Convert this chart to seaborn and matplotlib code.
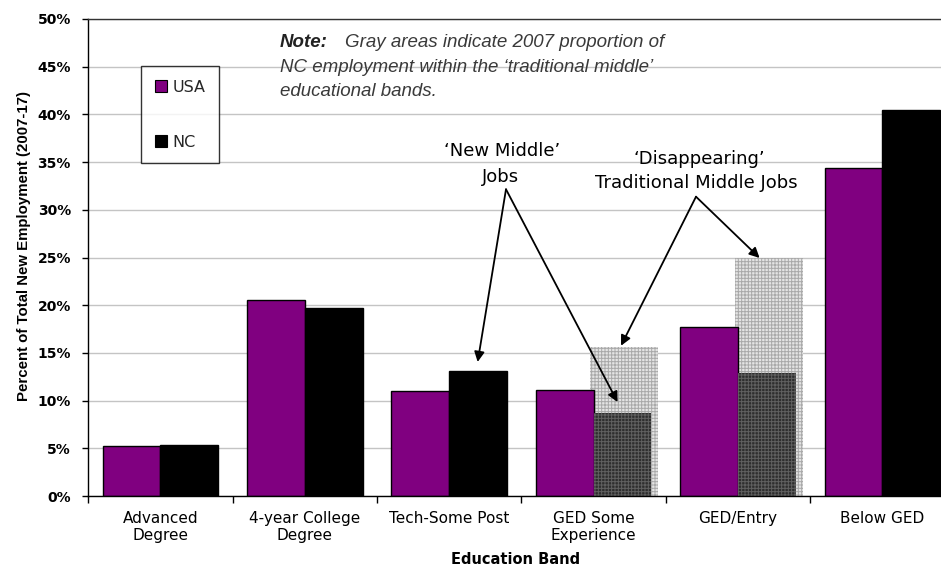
import numpy as np
import pandas as pd
import matplotlib
matplotlib.use("Agg")
import matplotlib.pyplot as plt
from matplotlib.ticker import FixedLocator, FuncFormatter
import seaborn as sns

# ---------------- data ----------------
bands = ["Advanced\nDegree", "4-year College\nDegree", "Tech-Some Post",
         "GED Some\nExperience", "GED/Entry", "Below GED"]
usa = [5.2, 20.55, 11.05, 11.15, 17.7, 34.35]
nc = [5.35, 19.7, 13.1, 8.65, 12.9, 40.45]
regions = ["USA", "NC"]

# 2007 NC share within the 'traditional middle' bands (gray areas)
middle_bands = ["GED Some\nExperience", "GED/Entry"]
nc_2007_middle = [15.6, 24.9]

y_ticks = [0, 5, 10, 15, 20, 25, 30, 35, 40, 45, 50]

note_lines = ["Gray areas indicate 2007 proportion of",
              "NC employment within the \u2018traditional middle\u2019",
              "educational bands."]

# ---------------- build frame ----------------
df = pd.DataFrame({
    "band": bands * 2,
    "region": [regions[0]] * len(bands) + [regions[1]] * len(bands),
    "value": usa + nc,
})

sns.set_theme(style="white")
plt.rcParams["font.family"] = ["DejaVu Sans"]
plt.rcParams["hatch.linewidth"] = 0.7

W, H = 941, 569
fig = plt.figure(figsize=(W / 100, H / 100), dpi=100)
fig.patch.set_facecolor("white")
# plot area (right edge runs slightly past the figure, as in the reference)
L, R, T, B = 88.3, 954.5, 19.0, 496.0
ax = fig.add_axes([L / W, 1 - B / H, (R - L) / W, (B - T) / H])
ax.set_facecolor("white")

sns.barplot(data=df, x="band", y="value", hue="region", order=bands,
            hue_order=regions, palette={"USA": "#800080", "NC": "#000000"},
            saturation=1, edgecolor="black", linewidth=1, errorbar=None,
            width=0.8, ax=ax, zorder=2)

# gray 2007 areas behind the NC bars
gx = [bands.index(b) + 0.213 for b in middle_bands]
ax.bar(gx, nc_2007_middle, width=0.47, facecolor="#e4e4e4",
       edgecolor="#a9a9a9", linewidth=0, hatch="+++++", zorder=1.5)

# NC bars of the traditional middle bands: dark hatched
nc_container = ax.containers[1]
for b in middle_bands:
    p = nc_container.patches[bands.index(b)]
    p.set_facecolor("#2e2e2e")
    p.set_edgecolor("#606060")
    p.set_linewidth(0)
    p.set_hatch("+++++")

# ---------------- axes styling ----------------
ax.set_ylim(0, 50)
ax.set_xlim(-0.5, len(bands) - 0.5)
ax.yaxis.set_major_locator(FixedLocator(y_ticks))
ax.yaxis.set_major_formatter(FuncFormatter(lambda v, p: f"{v:.0f}%"))
ax.set_axisbelow(True)
ax.grid(axis="y", color="#c4c4c4", linewidth=1.0)
ax.grid(axis="x", visible=False)

for s in ["left", "bottom", "top"]:
    ax.spines[s].set_visible(True)
    ax.spines[s].set_color("black")
    ax.spines[s].set_linewidth(1.0)
ax.spines["right"].set_visible(False)
ax.spines["top"].set_color("#333333")

ax.tick_params(axis="y", which="major", direction="out", length=4.5, width=1,
               color="black", pad=8, left=True)
for lab in ax.get_yticklabels():
    lab.set_fontsize(10)
    lab.set_fontweight("bold")
    lab.set_color("black")

ax.xaxis.set_minor_locator(FixedLocator(np.arange(-0.5, len(bands), 1.0)))
ax.tick_params(axis="x", which="major", length=0, pad=11)
ax.tick_params(axis="x", which="minor", direction="out", length=5, width=1,
               color="black", bottom=True)
ax.set_xticks(range(len(bands)))
ax.set_xticklabels(bands, fontsize=11, color="black", linespacing=1.15)

ax.set_xlabel("Education Band", fontsize=10.5, fontweight="bold", color="black")
ax.xaxis.set_label_coords((516 - L) / (R - L), -(552 - B) / (B - T))
ax.xaxis.label.set_verticalalignment("top")

ax.set_ylabel("Percent of Total New Employment (2007-17)", fontsize=10.8,
              fontweight="bold", color="black", family=["Liberation Sans"])
ax.yaxis.set_label_coords((24 - L) / (R - L), (B - 246) / (B - T))
ax.yaxis.label.set_verticalalignment("center")

# ---------------- legend ----------------
leg = ax.get_legend()
handles = leg.legend_handles
leg.remove()
leg = ax.legend(handles, regions, loc="upper left",
                bbox_to_anchor=((141 - L) / (R - L), (B - 66) / (B - T)),
                frameon=True, fancybox=False, shadow=False,
                fontsize=11.5, handlelength=0.8, handleheight=0.75,
                handletextpad=0.3, labelspacing=2.5, borderpad=0.85,
                borderaxespad=0)
leg.get_frame().set_edgecolor("black")
leg.get_frame().set_linewidth(1.0)
leg.get_frame().set_facecolor("white")
for h in leg.legend_handles:
    h.set_edgecolor("black")
    h.set_linewidth(0.8)

# ---------------- note ----------------
nfont = ["Liberation Sans", "DejaVu Sans"]
fig.text(280 / W, 1 - 46.7 / H, "Note:", fontsize=13.5, fontstyle="italic",
         fontweight="bold", color="#222222", family=nfont, va="baseline")
fig.text(345 / W, 1 - 46.7 / H, note_lines[0], fontsize=13.5,
         fontstyle="italic", color="#3a3a3a", family=nfont, va="baseline")
fig.text(280 / W, 1 - 71.5 / H, note_lines[1], fontsize=13.5,
         fontstyle="italic", color="#3a3a3a", family=nfont, va="baseline")
fig.text(280 / W, 1 - 95.5 / H, note_lines[2], fontsize=13.5,
         fontstyle="italic", color="#3a3a3a", family=nfont, va="baseline")

# ---------------- annotations ----------------
def afrac(px, py):
    return ((px - L) / (R - L), (B - py) / (B - T))

ax.text(*afrac(502, 151), "\u2018New Middle\u2019", transform=ax.transAxes,
        ha="center", va="center", fontsize=13, color="black")
ax.text(*afrac(500.7, 176.5), "Jobs", transform=ax.transAxes,
        ha="center", va="center", fontsize=13, color="black")
ax.text(*afrac(699, 159), "\u2018Disappearing\u2019", transform=ax.transAxes,
        ha="center", va="center", fontsize=13, color="black")
ax.text(*afrac(696.7, 183), "Traditional Middle Jobs", transform=ax.transAxes,
        ha="center", va="center", fontsize=13, color="black")

arrow_kw = dict(arrowstyle="-|>", color="black", lw=1.3, mutation_scale=15,
                shrinkA=0, shrinkB=0)
i_tech = bands.index("Tech-Some Post")
i_ged = bands.index(middle_bands[0])
i_entry = bands.index(middle_bands[1])
new_mid_origin = afrac(506, 189.3)
dis_origin = afrac(696, 196.7)
ax.annotate("", xy=(i_tech + 0.197, nc[i_tech] + 0.95), xycoords="data",
            xytext=new_mid_origin, textcoords="axes fraction",
            arrowprops=arrow_kw, zorder=5)
ax.annotate("", xy=(i_ged + 0.166, nc[i_ged] + 1.2), xycoords="data",
            xytext=new_mid_origin, textcoords="axes fraction",
            arrowprops=arrow_kw, zorder=5)
ax.annotate("", xy=(i_ged + 0.19, nc_2007_middle[0] + 0.15), xycoords="data",
            xytext=dis_origin, textcoords="axes fraction",
            arrowprops=arrow_kw, zorder=5)
ax.annotate("", xy=(i_entry + 0.15, nc_2007_middle[1] + 0.05), xycoords="data",
            xytext=dis_origin, textcoords="axes fraction",
            arrowprops=arrow_kw, zorder=5)

fig.savefig("out.png", dpi=100, facecolor="white")
